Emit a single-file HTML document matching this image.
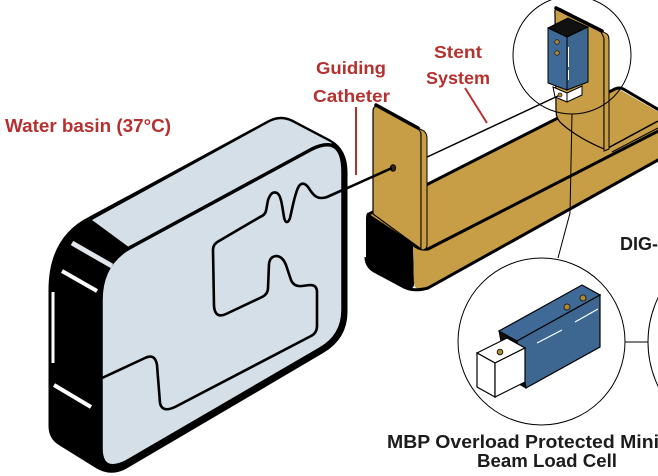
<!DOCTYPE html>
<html>
<head>
<meta charset="utf-8">
<style>
  html,body{margin:0;padding:0;background:#fff;}
  body{width:658px;height:476px;overflow:hidden;}
  svg{display:block;}
  .red{font-family:"Liberation Sans",sans-serif;font-weight:bold;fill:#b5312f;}
  .blk{font-family:"Liberation Sans",sans-serif;font-weight:bold;fill:#1c1c1c;}
</style>
</head>
<body>
<svg width="658" height="476" viewBox="0 0 658 476" xmlns="http://www.w3.org/2000/svg">
  <!-- ===== Yellow base ===== -->
  <path d="M369,213 L413,241 L414,284 Q414,291 404,287 L374,271 Q366,266 366,257 L366,220 Q366,211 369,213 Z" fill="#000"/>
  <path d="M369,214 L617,88 L676,122 L425,250 L413,243 Z" fill="#c79d45"/>
  <path d="M413,243 L425,250 L676,122 L676,150 L427,289 Q416,292 414,284 Z" fill="#c79d45"/>
  <path d="M369,214 L613,90 Q619,86 625,90 L676,120" stroke="#000" stroke-width="3" fill="none"/>
  <path d="M413,244 Q418,250 428,249 L676,122" stroke="#000" stroke-width="3" fill="none"/>
  <path d="M366,257 Q366,266 374,271 L404,287 Q414,292 428,288 L676,150" stroke="#000" stroke-width="3" fill="none"/>
  <line x1="608" y1="148" x2="658" y2="121" stroke="#000" stroke-width="1.5"/>
  <line x1="612" y1="152" x2="658" y2="128" stroke="#000" stroke-width="1"/>

  <!-- ===== Right upright ===== -->
  <path d="M555,14 Q554,6 561,9 L600,30 Q604,33 604,38 L604,149 Q578,138 562,124 Q556,119 556,111 Z" fill="#c79d45" stroke="#000" stroke-width="1.2"/>
  <path d="M600,30 L607,34 Q609,36 609,40 L609,149 L604,151 L604,38 Z" fill="#c79d45" stroke="#000" stroke-width="1"/>
  <line x1="556" y1="8" x2="602" y2="31" stroke="#000" stroke-width="3.5" stroke-linecap="round"/>

  <!-- top load cell -->
  <polygon points="548,28 568,18 588,27 567,37" fill="#111" stroke="#000" stroke-width="1"/>
  <polygon points="548,28 567,37 567,90 548,83" fill="#3f6a98" stroke="#000" stroke-width="1"/>
  <polygon points="567,37 588,27 588,82 567,90" fill="#3d6690" stroke="#000" stroke-width="1"/>
  <line x1="568.5" y1="47" x2="568.5" y2="67" stroke="#fff" stroke-width="1"/>
  <line x1="568.5" y1="70" x2="568.5" y2="80" stroke="#fff" stroke-width="1"/>
  <circle cx="557" cy="42" r="2.3" fill="#b08a30" stroke="#222" stroke-width="0.8"/>
  <circle cx="557" cy="53" r="2.3" fill="#b08a30" stroke="#222" stroke-width="0.8"/>
  <polygon points="553,87 567,93 567,102 555,97" fill="#fff" stroke="#000" stroke-width="1"/>
  <polygon points="567,93 582,86 582,95 567,102" fill="#fff" stroke="#000" stroke-width="1"/>

  <!-- stent line -->
  <line x1="410" y1="165" x2="560" y2="95" stroke="#000" stroke-width="1.5"/>
  <circle cx="560" cy="95" r="2" fill="#b08a30" stroke="#222" stroke-width="0.8"/>

  <!-- ===== Left panel ===== -->
  <path d="M373,112 Q373,104 380,107 L416,126 Q421,129 421,134 L421,249 L373,214 Z" fill="#c79d45" stroke="#000" stroke-width="1.2"/>
  <path d="M418,128 L424,131 Q427,134 427,138 L427,246 Q426,250 422,250 L421,249 L421,133 Z" fill="#c79d45" stroke="#000" stroke-width="1"/>
  <line x1="376" y1="105" x2="418" y2="128" stroke="#000" stroke-width="3.5" stroke-linecap="round"/>
  <ellipse cx="393" cy="168" rx="2.6" ry="3.2" fill="#3a2a10" stroke="#000" stroke-width="1"/>

  <!-- ===== Connectors / circles ===== -->
  <circle cx="572" cy="55" r="59" fill="none" stroke="#000" stroke-width="1"/>
  <polyline points="572,114 570,213 558,258" fill="none" stroke="#000" stroke-width="1"/>
  <circle cx="541.5" cy="341.5" r="83.5" fill="none" stroke="#000" stroke-width="1"/>
  <circle cx="750" cy="342" r="102" fill="none" stroke="#000" stroke-width="1"/>
  <line x1="625" y1="342" x2="648" y2="342" stroke="#000" stroke-width="1"/>

  <!-- ===== Water basin ===== -->
  <path d="M50,290 Q50,238 90,218 L268,122 Q280,115 292,121 L330,141 Q346,150 346,172 L346,312 Q346,338 322,352 L128,466 Q112,476 97,467 L60,444 Q50,438 50,426 Z" fill="#000" stroke="#000" stroke-width="3"/>
  <path d="M92,220 L268,123 Q280,116 292,122 L332,143 L320,150 L130,248 Z" fill="#d4dfe7"/>
  <path d="M101,300 Q101,262 133,246 L312,149 Q343,134 343,172 L343,310 Q343,336 320,349 L126,462 Q101,474 101,448 Z" fill="#d4dfe7" stroke="#000" stroke-width="3.5"/>
  <line x1="72" y1="243" x2="112" y2="266" stroke="#dfe7ec" stroke-width="5"/>
  <line x1="62" y1="271" x2="97" y2="291" stroke="#fff" stroke-width="4"/>
  <line x1="53" y1="292" x2="53" y2="363" stroke="#fff" stroke-width="3"/>
  <line x1="54" y1="385" x2="91" y2="407" stroke="#fff" stroke-width="4"/>
  <path d="M345,189 L327,197 C318,200 314,196 310,190 C306,183 302,182 299,186 C295,192 292,210 290,218 C288,224 285,223 284,217 C282,205 281,195 277,193 C272,191 270,195 268,200 L266,211 Q265,215 260,217 L219,241 Q213,244 213,250 L214,306 Q215,319 226,314 L262,297 Q268,294 268,288 L269,264 Q270,256 277,256 Q283,257 286,265 L291,280 Q294,287 302,286 L310,285 Q317,285 317,292 L317,326 Q317,333 311,336 L175,407 Q162,413 160,403 L157,365 Q155,353 145,358 L102,378" fill="none" stroke="#000" stroke-width="2.6" stroke-linejoin="round"/>
  <line x1="343" y1="190" x2="392" y2="168" stroke="#000" stroke-width="2.6"/>

  <!-- ===== Lower load cell ===== -->
  <polygon points="499,331 517,341 526,388 512,380 503,352" fill="#111" stroke="#000" stroke-width="1"/>
  <polygon points="499,331 582,285 600,295 517,341" fill="#3f6a98" stroke="#000" stroke-width="1.2"/>
  <polygon points="517,341 600,295 600,347 526,388" fill="#3d6690" stroke="#000" stroke-width="1.2"/>
  <line x1="537" y1="343" x2="562" y2="330" stroke="#fff" stroke-width="1.2"/>
  <line x1="575" y1="322" x2="598" y2="309" stroke="#fff" stroke-width="1.2"/>
  <circle cx="567" cy="307" r="3" fill="#b08a30" stroke="#222" stroke-width="1"/>
  <circle cx="583" cy="298" r="3" fill="#b08a30" stroke="#222" stroke-width="1"/>
  <polygon points="477,353 495,363 525,348 507,338" fill="#fff" stroke="#000" stroke-width="1.2"/>
  <polygon points="477,353 495,363 495,397 477,387" fill="#fff" stroke="#000" stroke-width="1.2"/>
  <polygon points="495,363 525,348 525,382 495,397" fill="#fff" stroke="#000" stroke-width="1.2"/>
  <circle cx="500" cy="352" r="2.8" fill="#b08a30" stroke="#222" stroke-width="1"/>

  <!-- ===== Labels ===== -->
  <line x1="356" y1="107" x2="356" y2="175" stroke="#b5312f" stroke-width="2"/>
  <line x1="465" y1="88" x2="487" y2="123" stroke="#b5312f" stroke-width="2"/>
  <text class="red" x="5" y="132" font-size="18" textLength="166" lengthAdjust="spacingAndGlyphs">Water basin (37°C)</text>
  <text class="red" x="316" y="74" font-size="17.5" textLength="70" lengthAdjust="spacingAndGlyphs">Guiding</text>
  <text class="red" x="313" y="102" font-size="17.5" textLength="77" lengthAdjust="spacingAndGlyphs">Catheter</text>
  <text class="red" x="434" y="58" font-size="17.5" textLength="48" lengthAdjust="spacingAndGlyphs">Stent</text>
  <text class="red" x="426" y="84" font-size="17.5" textLength="64" lengthAdjust="spacingAndGlyphs">System</text>
  <text class="blk" x="620" y="250" font-size="18" textLength="38" lengthAdjust="spacingAndGlyphs">DIG-</text>
  <text class="blk" x="387" y="448" font-size="18" textLength="272" lengthAdjust="spacingAndGlyphs">MBP Overload Protected Mini</text>
  <text class="blk" x="477" y="467" font-size="18" textLength="140" lengthAdjust="spacingAndGlyphs">Beam Load Cell</text>
</svg>
</body>
</html>
